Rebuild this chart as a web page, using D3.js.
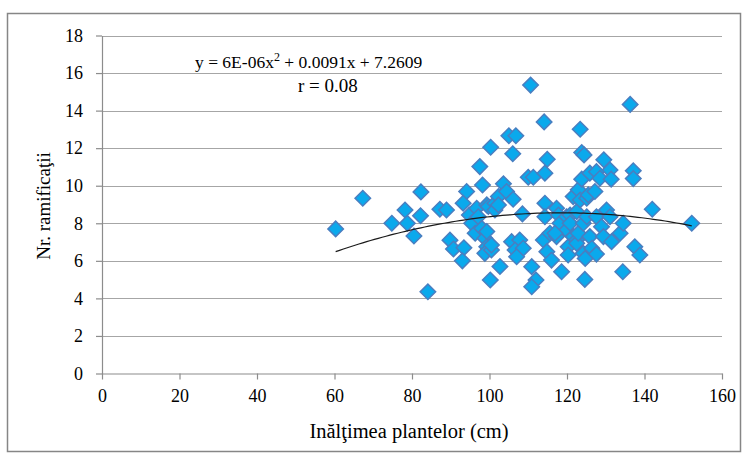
<!DOCTYPE html>
<html>
<head>
<meta charset="utf-8">
<script src="https://d3js.org/d3.v7.min.js"></script>
<style>
  body { margin: 0; background: #fff; }
  svg text { font-family: "Liberation Serif", "DejaVu Serif", serif; fill: #000; }
</style>
</head>
<body>
<svg id="chart" width="749" height="459"></svg>
<script>
// plant height (cm) and number of branches
var heights = [60.3, 67.3, 74.8, 78.2, 78.8, 80.5, 82.2, 82.3, 84.1, 87.2, 88.9, 89.8, 90.7, 93.4, 93.0,
  94.1, 93.2, 94.8, 95.4, 96.3, 96.7, 97.1, 97.5, 98.2, 98.0, 98.8, 99.3, 99.3, 99.7, 100.3,
  99.3, 98.8, 100.5, 100.5, 100.2, 101.4, 101.4, 102.3, 102.3, 102.7, 103.6, 104.4, 105.0, 106.8, 106.0,
  106.1, 105.7, 107.8, 106.6, 108.7, 107.0, 108.5, 110.0, 111.3, 110.6, 110.9, 112.0, 110.9, 114.1, 114.3,
  114.9, 114.3, 114.3, 113.9, 115.6, 114.8, 116.0, 117.3, 117.3, 117.8, 118.2, 118.6, 119.9, 119.9, 120.8,
  120.8, 120.3, 120.3, 121.6, 121.6, 122.5, 122.5, 122.5, 122.9, 122.9, 123.4, 123.4, 123.8, 124.4, 123.8,
  124.2, 124.2, 124.7, 124.6, 125.1, 125.5, 125.9, 125.1, 125.9, 126.4, 127.6, 127.2, 127.6, 127.6, 128.5,
  128.9, 129.4, 129.5, 130.2, 131.1, 131.4, 131.1, 131.5, 133.7, 134.5, 134.4, 136.3, 137.1, 137.1, 137.5,
  138.8, 142.0, 152.2, 116.9];
var branches = [7.7, 9.33, 8.0, 8.71, 8.0, 7.32, 8.4, 9.67, 4.35, 8.75, 8.71, 7.1, 6.63, 6.7, 6.0,
  9.69, 9.07, 8.44, 8.0, 7.47, 8.8, 8.35, 11.02, 10.04, 7.73, 7.2, 7.56, 8.98, 8.89, 12.05,
  6.75, 6.4, 6.58, 6.84, 4.98, 9.07, 8.71, 9.42, 8.98, 5.7, 10.1, 9.69, 12.66, 12.66, 11.7,
  9.28, 7.02, 7.11, 6.58, 6.67, 6.22, 8.5, 10.45, 10.45, 15.36, 5.69, 4.98, 4.62, 13.4, 10.67,
  11.41, 9.07, 8.35, 7.11, 7.47, 6.49, 6.04, 8.8, 7.29, 8.44, 8.0, 5.42, 7.64, 8.35, 8.44,
  8.0, 6.75, 6.31, 9.42, 7.29, 8.62, 7.11, 6.93, 9.78, 7.47, 13.01, 9.24, 11.77, 11.64, 10.35,
  8.0, 6.4, 6.13, 5.01, 9.33, 9.51, 10.67, 8.35, 7.29, 6.67, 10.75, 9.69, 8.35, 6.36, 10.4,
  7.82, 7.29, 11.38, 8.71, 10.84, 10.35, 8.35, 7.02, 7.47, 8.0, 5.42, 14.33, 10.8, 10.38, 6.75,
  6.31, 8.75, 8.0, 7.47];

var xTicks = [0, 20, 40, 60, 80, 100, 120, 140, 160];
var yTicks = [0, 2, 4, 6, 8, 10, 12, 14, 16, 18];

// polynomial trendline as drawn (a x^2 + b x + c)
var trendCoef = [-0.000611, 0.1448, -0.02];
var trendText = ["y = 6E-06x", "2", "+ 0.0091x + 7.2609"];
var rText = "r = 0.08";

var xLabel = "Inălţimea plantelor (cm)";
var yLabel = "Nr. ramificaţii";

var svg = d3.select("#chart");
var plotL = 102, plotR = 722, plotT = 35.5, plotB = 373.5;

var x = d3.scaleLinear().domain([0, 160]).range([plotL, plotR]);
var y = d3.scaleLinear().domain([0, 18]).range([plotB, plotT]);

// chart frame
svg.append("rect")
  .attr("x", 7.5).attr("y", 13.5)
  .attr("width", 733).attr("height", 438)
  .attr("fill", "none")
  .attr("stroke", "#868686")
  .attr("stroke-width", 1.5);

// gridlines
svg.append("g").selectAll("line")
  .data(yTicks.slice(1))
  .enter().append("line")
  .attr("x1", plotL).attr("x2", plotR)
  .attr("y1", function(d){ return Math.round(y(d)) + 0.5; })
  .attr("y2", function(d){ return Math.round(y(d)) + 0.5; })
  .attr("stroke", "#a6a6a6")
  .attr("stroke-width", 1.2);

// axes
var gx = svg.append("g")
  .attr("transform", "translate(0," + plotB + ")")
  .call(d3.axisBottom(x).tickValues(xTicks).tickSize(6).tickPadding(10).tickSizeOuter(0));
var gy = svg.append("g")
  .attr("transform", "translate(" + plotL + ",0)")
  .call(d3.axisLeft(y).tickValues(yTicks).tickSize(6).tickPadding(13).tickSizeOuter(0));

[gx, gy].forEach(function(g){
  g.attr("font-family", null);
  g.select(".domain").attr("stroke", "#8c8c8c").attr("stroke-width", 1.2);
  g.selectAll(".tick line").attr("stroke", "#8c8c8c").attr("stroke-width", 1.2);
  g.selectAll(".tick text")
    .attr("font-size", 18)
    .attr("fill", "#000");
});

// points (diamonds)
var diamond = d3.symbol().type(d3.symbolSquare).size(120);
svg.append("g").selectAll("path")
  .data(heights.map(function(h, i){ return [h, branches[i]]; }))
  .enter().append("path")
  .attr("d", diamond)
  .attr("transform", function(d){ return "translate(" + x(d[0]) + "," + y(d[1]) + ") rotate(45)"; })
  .attr("fill", "#0aa9ec")
  .attr("stroke", "#4a7ec0")
  .attr("stroke-width", 1.5);

// trendline
var ext = d3.extent(heights);
var trend = d3.range(ext[0], ext[1], 1).concat([ext[1]]).map(function(t){
  return [t, trendCoef[0] * t * t + trendCoef[1] * t + trendCoef[2]];
});
svg.append("path")
  .datum(trend)
  .attr("d", d3.line().x(function(d){ return x(d[0]); }).y(function(d){ return y(d[1]); }))
  .attr("fill", "none")
  .attr("stroke", "#1a1a1a")
  .attr("stroke-width", 1.2);

// equation labels
var eq = svg.append("text")
  .attr("x", 195).attr("y", 68)
  .attr("font-size", 17.5);
eq.append("tspan").text(trendText[0]);
eq.append("tspan").attr("dy", -7).attr("font-size", 12).text(trendText[1]);
eq.append("tspan").attr("dy", 7).text(" " + trendText[2]);

svg.append("text")
  .attr("x", 298).attr("y", 92)
  .attr("font-size", 19)
  .text(rText);

// axis titles
svg.append("text")
  .attr("x", 409).attr("y", 438)
  .attr("text-anchor", "middle")
  .attr("font-size", 20.5)
  .text(xLabel);

svg.append("text")
  .attr("transform", "translate(50,206) rotate(-90)")
  .attr("text-anchor", "middle")
  .attr("font-size", 19)
  .text(yLabel);
</script>
</body>
</html>
